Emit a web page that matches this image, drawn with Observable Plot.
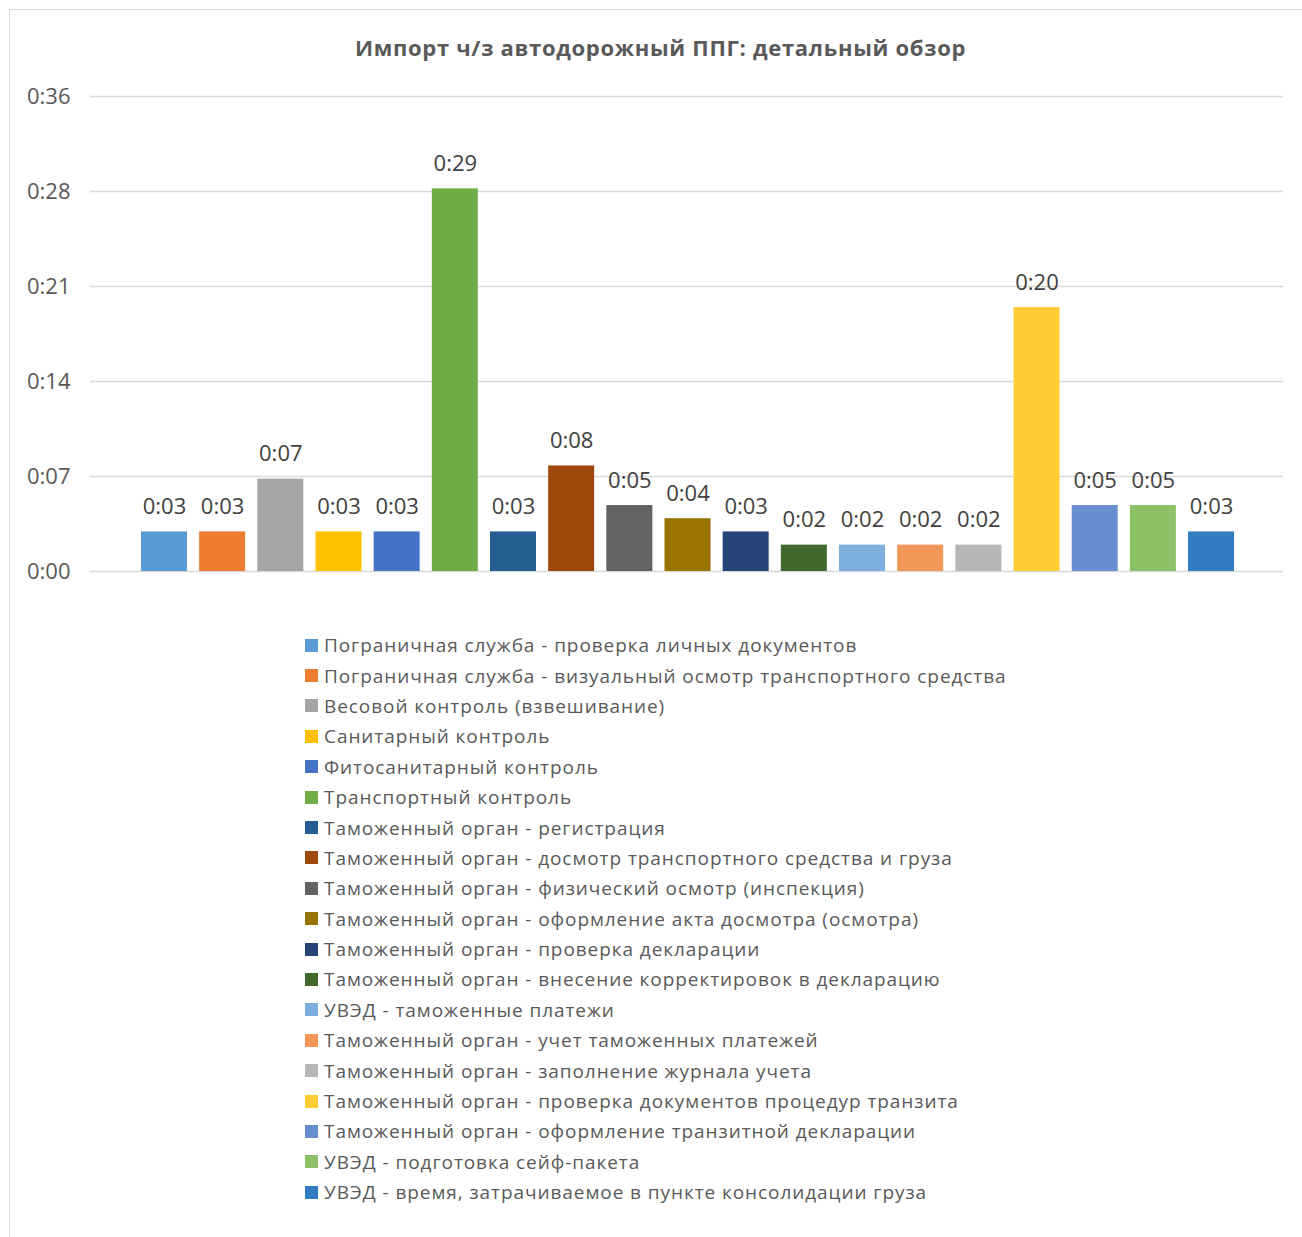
<!DOCTYPE html>
<html><head><meta charset="utf-8">
<script src="https://cdn.jsdelivr.net/npm/d3@7"></script>
<script src="https://cdn.jsdelivr.net/npm/@observablehq/plot@0.6"></script>
<style>
body{margin:0;background:#fff;font-family:"Open Sans",sans-serif;}
#wrap{position:relative;width:1302px;height:1237px;overflow:hidden;background:#fff;}
#frame{position:absolute;left:9px;top:9px;width:1400px;height:1400px;border:1px solid #d9d9d9;box-sizing:border-box;}
#title{position:absolute;left:9px;width:1303px;top:33px;line-height:28px;text-align:center;font-weight:bold;font-size:22px;letter-spacing:0.7px;color:#595959;}
#chart{position:absolute;left:0;top:80px;}
#legend{position:absolute;left:305px;top:630px;}
.item{display:flex;align-items:center;height:30.4px;font-size:19px;letter-spacing:0.93px;color:#595959;white-space:nowrap;}
.sw{width:13px;height:13px;margin-right:6px;flex:none;}
</style>
</head><body>
<div id="wrap">
<div id="frame"></div>
<div id="title">Импорт ч/з автодорожный ППГ: детальный обзор</div>
<div id="chart"></div>
<div id="legend"></div>
</div>
<script>
const categories = [
  "Пограничная служба - проверка личных документов",
  "Пограничная служба - визуальный осмотр транспортного средства",
  "Весовой контроль (взвешивание)",
  "Санитарный контроль",
  "Фитосанитарный контроль",
  "Транспортный контроль",
  "Таможенный орган - регистрация",
  "Таможенный орган - досмотр транспортного средства и груза",
  "Таможенный орган - физический осмотр (инспекция)",
  "Таможенный орган - оформление акта досмотра (осмотра)",
  "Таможенный орган - проверка декларации",
  "Таможенный орган - внесение корректировок в декларацию",
  "УВЭД - таможенные платежи",
  "Таможенный орган - учет таможенных платежей",
  "Таможенный орган - заполнение журнала учета",
  "Таможенный орган - проверка документов процедур транзита",
  "Таможенный орган - оформление транзитной декларации",
  "УВЭД - подготовка сейф-пакета",
  "УВЭД - время, затрачиваемое в пункте консолидации груза"
];
const minutes = [3, 3, 7, 3, 3, 29, 3, 8, 5, 4, 3, 2, 2, 2, 2, 20, 5, 5, 3];
const colors = [
  "#5B9BD5", "#ED7D31", "#A5A5A5", "#FFC000", "#4472C4", "#70AD47",
  "#255E91", "#9E480E", "#636363", "#997300", "#264478", "#43682B",
  "#7CAFDD", "#F1975A", "#B7B7B7", "#FFCD33", "#698ED0", "#8CC168", "#327DC2"
];
const yTicks = [0, 7.2, 14.4, 21.6, 28.8, 36];
const yTickLabels = ["0:00", "0:07", "0:14", "0:21", "0:28", "0:36"];

const fmt = m => "0:" + String(Math.round(m)).padStart(2, "0");
const data = categories.map((c, i) => ({category: c, minutes: minutes[i], label: fmt(minutes[i])}));

const chart = Plot.plot({
  width: 1302,
  height: 520,
  marginTop: 16,
  marginBottom: 29,
  marginLeft: 90,
  marginRight: 19,
  style: {fontFamily: "'Open Sans', sans-serif", color: "#595959", background: "transparent"},
  x: {domain: categories, range: [128.8, 1246.2], padding: 0.209, round: false, axis: null},
  y: {domain: [0, 36], axis: null},
  color: {domain: categories, range: colors},
  marks: [
    Plot.ruleY(yTicks, {stroke: "#d9d9d9", strokeWidth: 1.5}),
    Plot.barY(data, {x: "category", y: "minutes", fill: "category"}),
    Plot.text(data, {x: "category", y: "minutes", text: "label", lineAnchor: "bottom", dy: -18, fontSize: 22, fill: "#404040"}),
    Plot.axisY({ticks: yTicks, tickFormat: d => yTickLabels[yTicks.indexOf(d)], label: null, tickSize: 0, tickPadding: 20, fontSize: 22, fill: "#595959"})
  ]
});
document.getElementById("chart").appendChild(chart);

const legend = document.getElementById("legend");
categories.forEach((c, i) => {
  const row = document.createElement("div");
  row.className = "item";
  const sw = document.createElement("span");
  sw.className = "sw";
  sw.style.background = colors[i];
  const t = document.createElement("span");
  t.textContent = c;
  row.appendChild(sw);
  row.appendChild(t);
  legend.appendChild(row);
});
</script>
</body></html>
